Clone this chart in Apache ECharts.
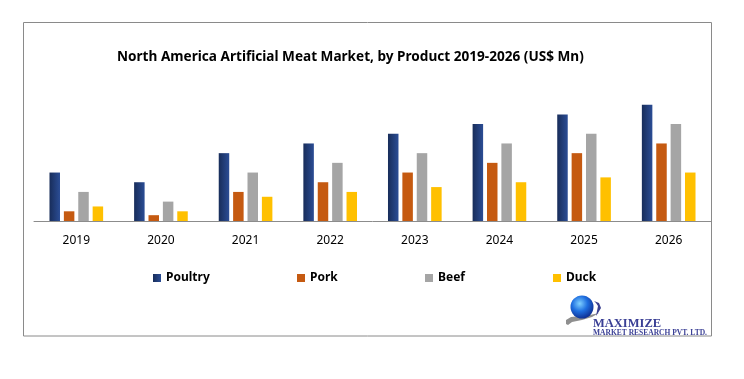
<!DOCTYPE html>
<html>
<head>
<meta charset="utf-8">
<script src="https://cdn.jsdelivr.net/npm/echarts@6/dist/echarts.min.js"></script>
<style>
html,body{margin:0;padding:0;background:#fff;}
#chart{width:744px;height:379px;}
</style>
</head>
<body>
<div id="chart"></div>
<script>
var categories = ['2019','2020','2021','2022','2023','2024','2025','2026'];
var poultry = [50, 40, 70, 80, 90, 100, 110, 120];
var pork    = [10, 6, 30, 40, 50, 60, 70, 80];
var beef    = [30, 20, 50, 60, 70, 80, 90, 100];
var duck    = [15, 10, 25, 30, 35, 40, 45, 50];
var seriesNames = ['Poultry','Pork','Beef','Duck'];
var titleText = 'North America Artificial Meat Market, by Product 2019-2026 (US$ Mn)';

var chart = echarts.init(document.getElementById('chart'), null, {renderer:'canvas'});
var font = '"Noto Sans", "Open Sans", sans-serif';
var poultryGrad = {type:'linear', x:0, y:0, x2:1, y2:0, colorStops:[
  {offset:0,color:'#182d5a'},{offset:1,color:'#2b4d95'}]};
var globeGrad = {type:'radial', x:0.4, y:0.35, r:0.75, colorStops:[
  {offset:0,color:'#7fd0ff'},{offset:0.45,color:'#1f6fe0'},{offset:1,color:'#0a1f80'}]};
var colors = ['#23407f','#c55a11','#a5a5a5','#ffc000'];
var legendLeft = [148, 292, 420, 548];

function mkSeries(name, data, color){
  return {
    name:name, type:'bar', data:data, barWidth:10.5, barGap:'37%',
    itemStyle:{color:color}
  };
}

var option = {
  animation:false,
  color: colors,
  title:{
    text:titleText, left:112, top:45,
    textStyle:{fontFamily:font, fontSize:13.6, fontWeight:'bold', color:'#000'}
  },
  legend: seriesNames.map(function(n,i){
    return {
      data:[n], left:legendLeft[i], top:267,
      itemWidth:8, itemHeight:8, itemGap:0, icon:'rect',
      textStyle:{fontFamily:font, fontSize:12, fontWeight:'bold', color:'#000'}
    };
  }),
  grid:{left:34, right:33, top:95, bottom:158},
  xAxis:{
    type:'category', data:categories,
    axisLine:{lineStyle:{color:'#8c8c8c', width:1}},
    axisTick:{show:false},
    axisLabel:{fontFamily:font, fontSize:12, color:'#000', margin:14}
  },
  yAxis:{type:'value', min:0, max:130, show:false, splitLine:{show:false}},
  series:[
    mkSeries('Poultry', poultry, poultryGrad),
    mkSeries('Pork', pork, colors[1]),
    mkSeries('Beef', beef, colors[2]),
    mkSeries('Duck', duck, colors[3])
  ],
  graphic:{elements:[
    {type:'rect', shape:{x:23.5,y:22.5,width:688,height:313.5},
     style:{fill:'none', stroke:'#8a8a8a', lineWidth:1}, silent:true, z:-1},
    {type:'polygon', silent:true, z:10,
     shape:{points:[[566,324],[566,320],[571,317],[580,316],[590,315],[599,313],[592,317],[582,320],[572,322],[568,325]]},
     style:{fill:'#8f8f8f'}},
    {type:'polygon', silent:true, z:10,
     shape:{points:[[594,301],[599,303],[601,308],[598,313],[596,316],[597,311],[598,306],[596,303]]},
     style:{fill:'#3a3f8f'}},
    {type:'circle', silent:true, z:11,
     shape:{cx:582, cy:307, r:11.5},
     style:{fill:globeGrad}},
    {type:'text', silent:true, z:12, x:593, y:317,
     style:{text:'MAXIMIZE', font:'bold 12.5px "Liberation Serif", "DejaVu Serif", serif', fill:'#3a3f95'}},
    {type:'text', silent:true, z:12, x:593, y:329,
     style:{text:'MARKET RESEARCH PVT. LTD.', font:'bold 7.5px "Liberation Serif", "DejaVu Serif", serif', fill:'#3a3f95'}}
  ]}
};
chart.setOption(option);
</script>
</body>
</html>
